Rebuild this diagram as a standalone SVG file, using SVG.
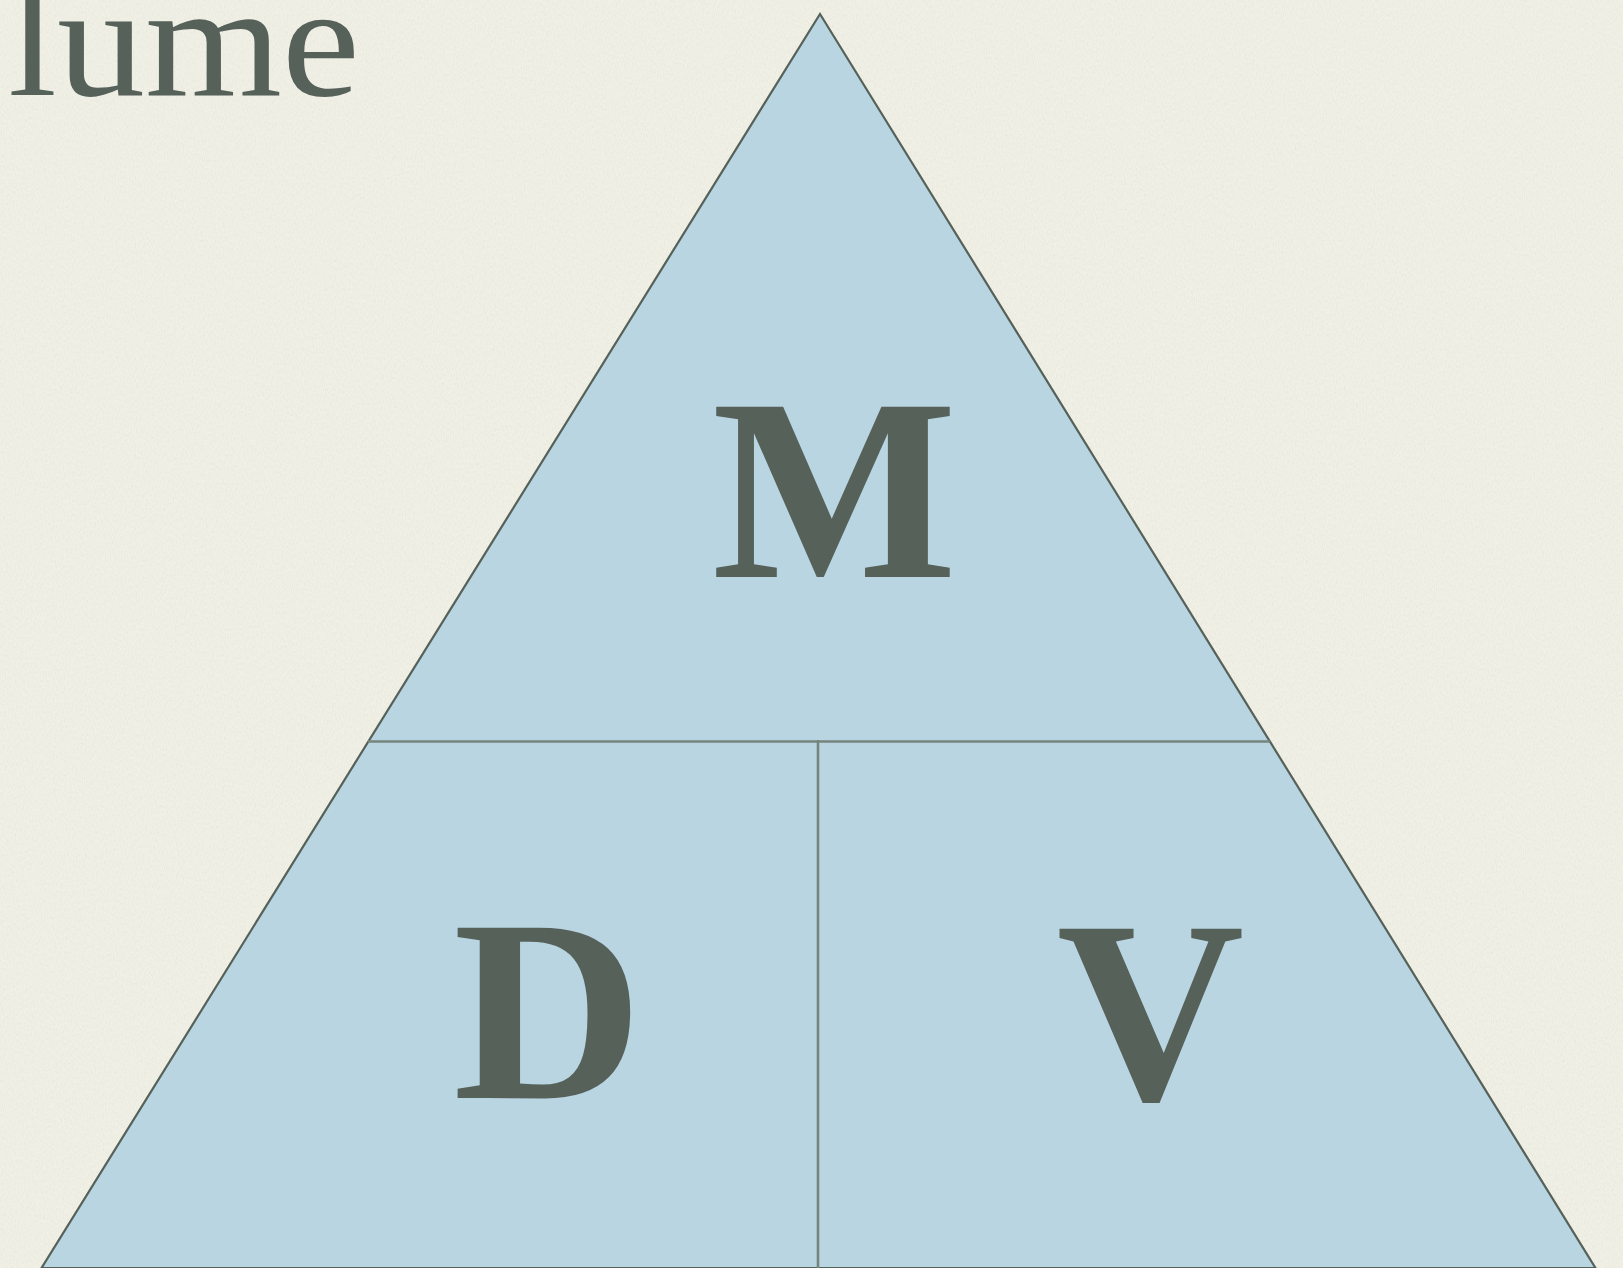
<svg xmlns="http://www.w3.org/2000/svg" width="1623" height="1268" viewBox="0 0 1623 1268">
  <defs>
    <filter id="paper" x="0" y="0" width="100%" height="100%">
      <feTurbulence type="fractalNoise" baseFrequency="0.9 0.35" numOctaves="2" seed="3" result="n"/>
      <feColorMatrix in="n" type="matrix" values="0 0 0 0 0.78  0 0 0 0 0.78  0 0 0 0 0.72  0 0 0 -1.6 0.95" result="s"/>
      <feComposite in="s" in2="SourceGraphic" operator="in" result="t"/>
      <feMerge><feMergeNode in="SourceGraphic"/><feMergeNode in="t"/></feMerge>
    </filter>
  </defs>
  <style>
    .bg { fill: #f1f0e5; }
    .tri { fill: #b9d5e2; stroke: #56615a; stroke-width: 2.2; stroke-linejoin: miter; }
    .div { stroke: #76847c; stroke-width: 2.6; fill: none; }
    .letter { font-family: "Liberation Serif", "Times New Roman", Tinos, serif; font-weight: bold; font-size: 260px; fill: #56615a; text-anchor: middle; }
    .title { font-family: "Liberation Serif", "Times New Roman", Tinos, serif; font-size: 160px; fill: #56615a; }
  </style>
  <rect class="bg" x="0" y="0" width="1623" height="1268" filter="url(#paper)"/>
  <text class="title" x="8" y="95" textLength="352" lengthAdjust="spacingAndGlyphs">lume</text>
  <g id="triangle">
    <polygon class="tri" points="820,14 1595.5,1268 41.5,1268"/>
  </g>
  <g id="connectors">
    <line class="div" x1="368" y1="741.5" x2="1270" y2="741.5"/>
    <line class="div" x1="818" y1="740" x2="818" y2="1268"/>
  </g>
  <g id="node-mass">
    <text class="letter" x="834.5" y="577">M</text>
  </g>
  <g id="node-density">
    <text class="letter" x="548" y="1098" textLength="190" lengthAdjust="spacingAndGlyphs">D</text>
  </g>
  <g id="node-volume">
    <text class="letter" x="1150.5" y="1099">V</text>
  </g>
</svg>
